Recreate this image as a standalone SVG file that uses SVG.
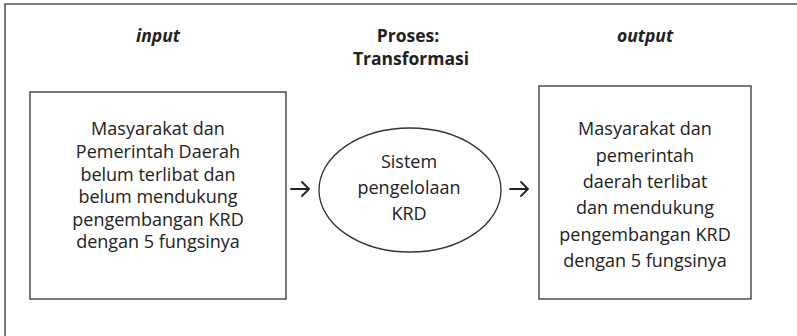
<svg xmlns="http://www.w3.org/2000/svg" width="797" height="336" viewBox="0 0 797 336">
  <defs>
    <style>
      .frame { fill: none; stroke: #555; stroke-width: 1.6; }
      .box { fill: #fff; stroke: #333; stroke-width: 1.3; }
      .t { font-family: "Open Sans", Lato, "Liberation Sans", sans-serif; font-size: 18px; fill: #222; text-anchor: middle; }
      .h { font-weight: bold; font-size: 17.5px; }
      .i { font-style: italic; }
      .conn { fill: none; stroke: #222; stroke-width: 1.8; stroke-linecap: round; stroke-linejoin: round; }
    </style>
  </defs>
  <rect width="797" height="336" fill="#fff"/>
  <!-- outer frame: top and left edges -->
  <path class="frame" d="M5,336 V4 H797"/>

  <!-- column headings -->
  <g id="headings">
    <text class="t h i" x="158" y="42">input</text>
    <text class="t h" x="408" y="42">Proses:</text>
    <text class="t h" x="411" y="65">Transformasi</text>
    <text class="t h i" x="645" y="42">output</text>
  </g>

  <g id="input">
    <rect class="box" x="30" y="92" width="256" height="207"/>
    <text class="t" x="158" y="135">Masyarakat dan</text>
    <text class="t" x="158" y="158">Pemerintah Daerah</text>
    <text class="t" x="158" y="180.5">belum terlibat dan</text>
    <text class="t" x="158" y="203">belum mendukung</text>
    <text class="t" x="158" y="225.5">pengembangan KRD</text>
    <text class="t" x="158" y="248">dengan 5 fungsinya</text>
  </g>

  <g id="process">
    <ellipse class="box" cx="410" cy="190" rx="91" ry="62"/>
    <text class="t" x="409" y="168">Sistem</text>
    <text class="t" x="409" y="194">pengelolaan</text>
    <text class="t" x="409" y="220">KRD</text>
  </g>

  <g id="output">
    <rect class="box" x="539" y="86" width="212" height="213"/>
    <text class="t" x="645" y="135">Masyarakat dan</text>
    <text class="t" x="645" y="161.5">pemerintah</text>
    <text class="t" x="645" y="188">daerah terlibat</text>
    <text class="t" x="645" y="214">dan mendukung</text>
    <text class="t" x="645" y="240.5">pengembangan KRD</text>
    <text class="t" x="645" y="267">dengan 5 fungsinya</text>
  </g>

  <g id="connectors">
    <path class="conn" d="M291,189 H309 M302,182 L309,189 L302,196"/>
    <path class="conn" d="M510,189 H528 M521,182 L528,189 L521,196"/>
  </g>
</svg>
